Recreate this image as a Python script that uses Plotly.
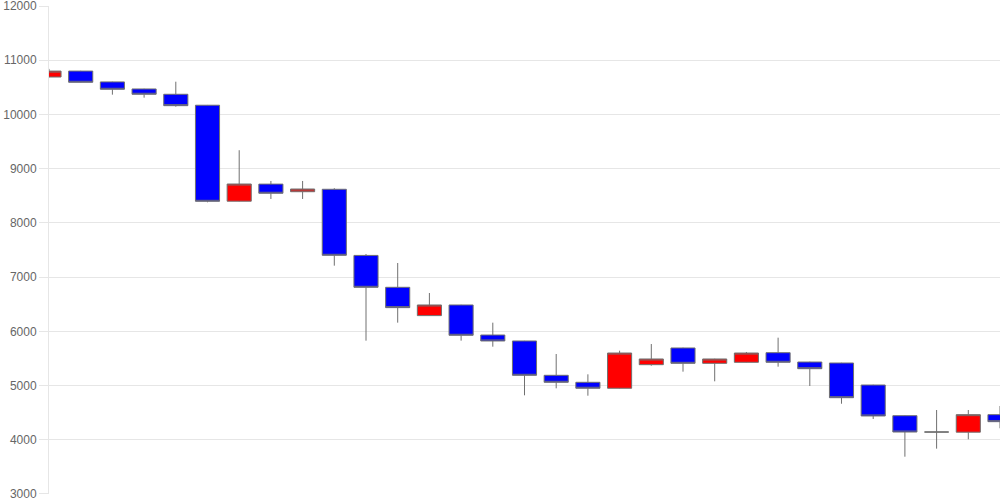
import plotly.graph_objects as go

x_idx = list(range(31))
opens = [10690, 10800, 10600, 10470, 10372, 10170, 8400, 8715, 8575, 8620,
         7400, 6812, 6290, 6486, 5932, 5822, 5189, 5060, 4950, 5385,
         5693, 5410, 5429, 5606, 5434, 5416, 5010, 4444, 4143, 4140, 4463]
highs = [10840, 10805, 10605, 10475, 10604, 10175, 9340, 8773, 8773, 8640,
         7426, 7260, 6707, 6490, 6160, 5825, 5582, 5207, 5643, 5766,
         5700, 5495, 5619, 5883, 5440, 5420, 5015, 4450, 4549, 4549, 4623]
lows = [10685, 10590, 10365, 10309, 10143, 8380, 8395, 8441, 8441, 7211,
        5828, 6160, 6285, 5828, 5717, 4820, 4949, 4813, 4945, 5366,
        5256, 5078, 5425, 5348, 4992, 4665, 4383, 3688, 3836, 4009, 4212]
closes = [10800, 10593, 10464, 10372, 10162, 8398, 8717, 8546, 8625, 7402,
          6812, 6437, 6486, 5927, 5822, 5189, 5060, 4950, 5600, 5490,
          5410, 5490, 5600, 5429, 5311, 4776, 4439, 4143, 4143, 4463, 4334]

y_ticks = [3000, 4000, 5000, 6000, 7000, 8000, 9000, 10000, 11000, 12000]

fig = go.Figure(go.Candlestick(
    x=x_idx, open=opens, high=highs, low=lows, close=closes,
    increasing=dict(fillcolor="#ff0000", line=dict(color="#707070", width=1)),
    decreasing=dict(fillcolor="#0000ff", line=dict(color="#707070", width=1)),
    whiskerwidth=0,
    hoverinfo="skip",
))

fig.update_layout(
    width=1000, height=500,
    margin=dict(l=49, r=0, t=6, b=6, pad=0),
    paper_bgcolor="white", plot_bgcolor="white",
    showlegend=False,
    boxgap=0.24, boxgroupgap=0,
    font=dict(family="Liberation Sans, Arial, sans-serif", size=12, color="#666666"),
    xaxis=dict(range=[0, 30.0001], showticklabels=False, showgrid=False, zeroline=False,
               rangeslider=dict(visible=False), showline=False, ticks="",
               automargin=False),
    yaxis=dict(range=[2999.9, 12000.1], tickvals=y_ticks, ticktext=[str(v) for v in y_ticks],
               showgrid=True, gridcolor="#e6e6e6", gridwidth=1, zeroline=False,
               showline=True, linecolor="#e6e6e6", linewidth=1,
               ticks="outside", ticklen=9, tickcolor="#e6e6e6",
               ticklabeloverflow="allow", automargin=False,
               tickfont=dict(size=12, color="#666666")),
)

fig.write_html("out.html",
               config={"displayModeBar": False, "staticPlot": True},
               post_script="document.body.style.margin='0';document.body.style.overflow='hidden';")
